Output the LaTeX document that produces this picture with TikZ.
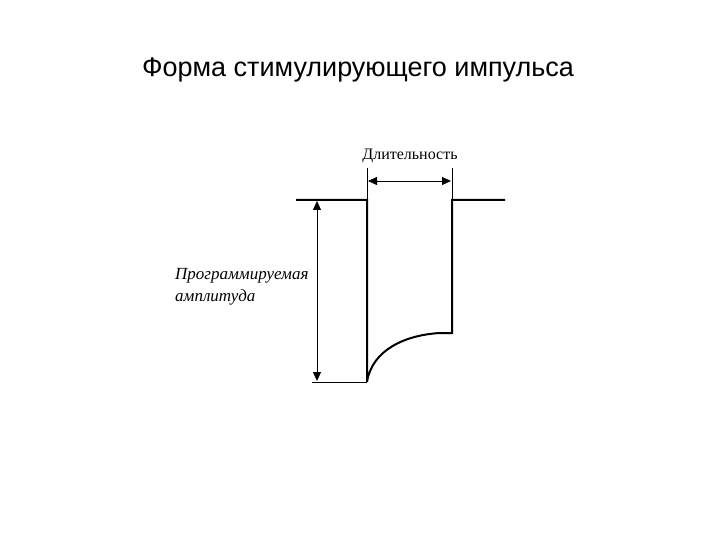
\documentclass[tikz,border=0pt]{standalone}
\usepackage{fontspec}
\setmainfont{Liberation Serif}
\newfontfamily\titlefont{Liberation Sans}
\usetikzlibrary{arrows.meta}
\begin{document}
\begin{tikzpicture}[x=1pt,y=-1pt,
  wave/.style={line width=2pt},
  thin/.style={line width=0.9pt},
  dim/.style={line width=0.8pt,{Triangle[length=9pt,width=8pt]}-{Triangle[length=9pt,width=8pt]}},
  lbl/.style={font=\itshape\fontsize{17}{22}\selectfont,align=left,inner sep=0}]
\useasboundingbox (0,0) rectangle (720,540);
\node[font=\titlefont\fontsize{27}{32}\selectfont] (title) at (358,70) {Форма стимулирующего импульса};
\coordinate (a) at (296,200);
\coordinate (b) at (367,200);
\coordinate (c) at (367,382);
\coordinate (d) at (440,333);
\coordinate (e) at (452,333);
\coordinate (f) at (452,200);
\coordinate (g) at (505,200);
\draw[wave] (a) -- (b) -- (c) .. controls (372,350) and (405,335) .. (d) -- (e) -- (f) -- (g);
\coordinate (bl) at (312,382);
\draw[thin] (bl) -- (c);
\coordinate (t1) at (367,168);
\coordinate (t2) at (452,168);
\draw[thin] (t1) -- (b);
\draw[thin] (t2) -- (f);
\coordinate (d1) at (368,181);
\coordinate (d2) at (451,181);
\draw[dim] (d1) -- (d2);
\coordinate (v1) at (317,201);
\coordinate (v2) at (317,381);
\draw[dim] (v1) -- (v2);
\node[font=\fontsize{16}{18}\selectfont] (dur) at (410,156) {Длительность};
\node[lbl,anchor=west] (amp) at (175,287) {Программируемая\\амплитуда};
\end{tikzpicture}
\end{document}
